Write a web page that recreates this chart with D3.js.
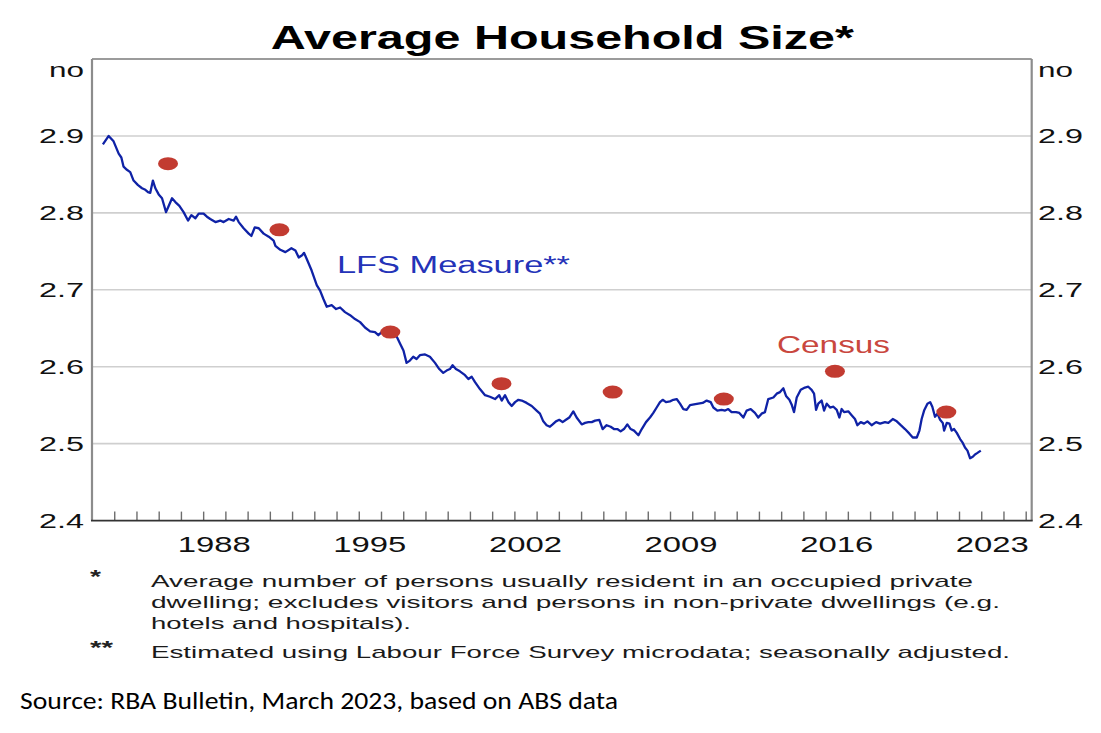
<!DOCTYPE html>
<html>
<head>
<meta charset="utf-8">
<script src="https://cdn.jsdelivr.net/npm/d3@7"></script>
<style>
  html, body { margin: 0; padding: 0; background: #ffffff; }
  svg { display: block; }
</style>
</head>
<body>
<div id="chart"></div>
<script>
// ---------------- DATA ----------------
const chartTitle = "Average Household Size*";
const yUnit = "no";
const yTickValues = [2.4, 2.5, 2.6, 2.7, 2.8, 2.9];
const xTickLabels = [1988, 1995, 2002, 2009, 2016, 2023];
const seriesLabel = "LFS Measure**";
const censusLabel = "Census";

const lfsYears = [
  1983.49, 1983.75, 1983.97, 1984.20, 1984.32, 1984.42, 1984.57, 1984.72, 1984.87, 1985.07,
  1985.25, 1985.40, 1985.52, 1985.62, 1985.74, 1985.85, 1986.00, 1986.15, 1986.33, 1986.45,
  1986.60, 1986.75, 1986.93, 1987.12, 1987.32, 1987.47, 1987.65, 1987.80, 1988.02, 1988.17,
  1988.32, 1988.55, 1988.77, 1988.92, 1989.15, 1989.37, 1989.48, 1989.60, 1989.82, 1990.05,
  1990.17, 1990.32, 1990.50, 1990.72, 1990.95, 1991.17, 1991.25, 1991.47, 1991.70, 1991.97,
  1992.15, 1992.30, 1992.45, 1992.54, 1992.66, 1992.88, 1993.11, 1993.26, 1993.41, 1993.56,
  1993.78, 1993.98, 1994.16, 1994.38, 1994.61, 1994.83, 1995.06, 1995.28, 1995.51, 1995.73,
  1995.88, 1996.03, 1996.26, 1996.48, 1996.71, 1996.86, 1997.01, 1997.15, 1997.30, 1997.45,
  1997.60, 1997.75, 1997.98, 1998.20, 1998.43, 1998.62, 1998.80, 1998.95, 1999.10, 1999.22,
  1999.37, 1999.55, 1999.78, 1999.93, 2000.08, 2000.23, 2000.45, 2000.68, 2000.90, 2001.13,
  2001.32, 2001.43, 2001.58, 2001.73, 2001.88, 2002.03, 2002.18, 2002.33, 2002.55, 2002.78,
  2003.00, 2003.15, 2003.30, 2003.45, 2003.60, 2003.72, 2003.87, 2004.02, 2004.17, 2004.32,
  2004.47, 2004.65, 2004.80, 2005.03, 2005.18, 2005.33, 2005.48, 2005.63, 2005.82, 2005.97,
  2006.15, 2006.33, 2006.48, 2006.63, 2006.78, 2006.93, 2007.08, 2007.23, 2007.38, 2007.58,
  2007.73, 2007.92, 2008.10, 2008.25, 2008.40, 2008.55, 2008.67, 2008.82, 2009.00, 2009.15,
  2009.30, 2009.45, 2009.60, 2009.75, 2009.90, 2010.08, 2010.27, 2010.47, 2010.65, 2010.83,
  2010.95, 2011.13, 2011.32, 2011.48, 2011.62, 2011.77, 2011.97, 2012.12, 2012.30, 2012.45,
  2012.63, 2012.82, 2012.97, 2013.12, 2013.27, 2013.42, 2013.65, 2013.80, 2013.95, 2014.10,
  2014.22, 2014.37, 2014.47, 2014.58, 2014.70, 2014.88, 2015.07, 2015.22, 2015.37, 2015.48,
  2015.57, 2015.67, 2015.82, 2015.93, 2016.05, 2016.20, 2016.35, 2016.50, 2016.62, 2016.72,
  2016.83, 2017.02, 2017.17, 2017.32, 2017.43, 2017.58, 2017.73, 2017.88, 2018.07, 2018.27,
  2018.45, 2018.67, 2018.82, 2019.02, 2019.20, 2019.38, 2019.57, 2019.77, 2019.92, 2020.10,
  2020.22, 2020.32, 2020.43, 2020.58, 2020.70, 2020.80, 2020.92, 2021.03, 2021.15, 2021.27,
  2021.33, 2021.45, 2021.57, 2021.67, 2021.78, 2021.90, 2022.05, 2022.17, 2022.27, 2022.38,
  2022.50, 2022.62, 2022.72, 2022.83, 2022.98
];
const lfsValues = [
  2.889, 2.900, 2.893, 2.877, 2.872, 2.860, 2.856, 2.853, 2.842, 2.836,
  2.832, 2.830, 2.827, 2.826, 2.842, 2.832, 2.824, 2.819, 2.801, 2.809,
  2.819, 2.814, 2.809, 2.801, 2.790, 2.797, 2.793, 2.799, 2.799, 2.795,
  2.792, 2.788, 2.790, 2.788, 2.792, 2.790, 2.795, 2.788, 2.780, 2.773,
  2.770, 2.781, 2.780, 2.773, 2.769, 2.764, 2.757, 2.752, 2.749, 2.754,
  2.751, 2.742, 2.745, 2.748, 2.740, 2.725, 2.706, 2.699, 2.688, 2.678,
  2.680, 2.675, 2.677, 2.671, 2.667, 2.662, 2.658, 2.651, 2.646, 2.645,
  2.641, 2.645, 2.643, 2.641, 2.639, 2.630, 2.621, 2.605, 2.608, 2.613,
  2.610, 2.615, 2.616, 2.613, 2.605, 2.597, 2.592, 2.595, 2.597, 2.602,
  2.597, 2.594, 2.589, 2.584, 2.587, 2.580, 2.571, 2.563, 2.561, 2.558,
  2.563, 2.556, 2.563, 2.554, 2.549, 2.554, 2.557, 2.556, 2.553, 2.549,
  2.543, 2.539, 2.529, 2.524, 2.522, 2.525, 2.529, 2.531, 2.528, 2.531,
  2.534, 2.542, 2.534, 2.525, 2.527, 2.528, 2.528, 2.530, 2.531, 2.519,
  2.524, 2.522, 2.519, 2.519, 2.516, 2.519, 2.525, 2.519, 2.517, 2.511,
  2.519, 2.528, 2.534, 2.540, 2.547, 2.554, 2.557, 2.554, 2.555, 2.557,
  2.558, 2.552, 2.545, 2.544, 2.550, 2.551, 2.552, 2.553, 2.556, 2.554,
  2.547, 2.543, 2.544, 2.543, 2.545, 2.541, 2.541, 2.540, 2.534, 2.543,
  2.545, 2.540, 2.534, 2.539, 2.541, 2.558, 2.560, 2.565, 2.567, 2.572,
  2.562, 2.557, 2.551, 2.541, 2.560, 2.570, 2.573, 2.574, 2.570, 2.565,
  2.544, 2.552, 2.556, 2.543, 2.552, 2.547, 2.548, 2.544, 2.534, 2.545,
  2.541, 2.542, 2.537, 2.532, 2.524, 2.528, 2.526, 2.529, 2.524, 2.528,
  2.526, 2.528, 2.527, 2.532, 2.529, 2.524, 2.519, 2.513, 2.508, 2.508,
  2.517, 2.532, 2.543, 2.552, 2.554, 2.548, 2.535, 2.539, 2.531, 2.527,
  2.517, 2.527, 2.526, 2.517, 2.519, 2.514, 2.506, 2.501, 2.495, 2.491,
  2.481, 2.483, 2.486, 2.488, 2.491
];

const censusYears  = [1986.42, 1991.43, 1996.42, 2001.42, 2006.42, 2011.42, 2016.42, 2021.43];
const censusValues = [2.864, 2.778, 2.645, 2.578, 2.567, 2.558, 2.594, 2.541];

const footnotes = [
  { mark: "*",  lines: [
      "Average number of persons usually resident in an occupied private",
      "dwelling; excludes visitors and persons in non-private dwellings (e.g.",
      "hotels and hospitals)."] },
  { mark: "**", lines: [
      "Estimated using Labour Force Survey microdata; seasonally adjusted."] }
];
const sourceText = "Source: RBA Bulletin, March 2023, based on ABS data";

// ---------------- LAYOUT ----------------
const W = 1101, H = 733;
const plot = { left: 92, right: 1031.7, top: 59, bottom: 520.6 };
const FONT = "'Liberation Sans', Arial, Helvetica, sans-serif";
const lineColor = "#0f22a6";
const labelBlue = "#2433b8";
const dotColor = "#c23b31";
const censusTextColor = "#c9473e";

const svg = d3.select("#chart").append("svg")
  .attr("width", W).attr("height", H)
  .attr("viewBox", `0 0 ${W} ${H}`);

svg.append("rect").attr("width", W).attr("height", H).attr("fill", "#fff");

const x = d3.scaleLinear().domain([1983, 2025.27]).range([plot.left, plot.right]);
const y = d3.scaleLinear().domain([2.4, 3.0]).range([plot.bottom, plot.top]);

// Title
svg.append("text")
  .attr("x", (plot.left + plot.right) / 2 + 0.5)
  .attr("y", 49)
  .attr("text-anchor", "middle")
  .attr("font-family", FONT)
  .attr("font-weight", "bold")
  .attr("font-size", 33)
  .attr("textLength", 583)
  .attr("lengthAdjust", "spacingAndGlyphs")
  .attr("fill", "#000")
  .text(chartTitle);

// Gridlines
svg.append("g")
  .selectAll("line")
  .data(yTickValues.filter(v => v > 2.4))
  .join("line")
  .attr("x1", plot.left).attr("x2", plot.right)
  .attr("y1", d => y(d)).attr("y2", d => y(d))
  .attr("stroke", "#cfcfcf")
  .attr("stroke-width", 1.6);

// Bottom yearly ticks (pointing up into the plot)
const xAxis = d3.axisBottom(x)
  .tickValues(d3.range(1984, 2026))
  .tickSize(-9)
  .tickFormat("");
const gx = svg.append("g")
  .attr("transform", `translate(0,${plot.bottom})`)
  .call(xAxis);
gx.select(".domain").remove();
gx.selectAll(".tick line").attr("stroke", "#6d6d6d").attr("stroke-width", 1.4);

// Frame
svg.append("line").attr("x1", plot.left).attr("x2", plot.right)
  .attr("y1", plot.top).attr("y2", plot.top)
  .attr("stroke", "#7a7a7a").attr("stroke-width", 1.6);
svg.append("line").attr("x1", plot.left).attr("x2", plot.left)
  .attr("y1", plot.top).attr("y2", plot.bottom)
  .attr("stroke", "#8c8c8c").attr("stroke-width", 2.2);
svg.append("line").attr("x1", plot.right).attr("x2", plot.right)
  .attr("y1", plot.top).attr("y2", plot.bottom)
  .attr("stroke", "#8c8c8c").attr("stroke-width", 2.2);
svg.append("line").attr("x1", plot.left - 1).attr("x2", plot.right + 1)
  .attr("y1", plot.bottom).attr("y2", plot.bottom)
  .attr("stroke", "#333").attr("stroke-width", 1.6);

// Y labels (both sides)
const yLabelFont = 20;
function yLabel(xPos, anchor, v) {
  svg.append("text")
    .attr("x", xPos)
    .attr("y", y(v) + 7.5)
    .attr("text-anchor", anchor)
    .attr("font-family", FONT)
    .attr("font-size", yLabelFont)
    .attr("textLength", 45)
    .attr("lengthAdjust", "spacingAndGlyphs")
    .attr("fill", "#111")
    .text(d3.format(".1f")(v));
}
yTickValues.forEach(v => { yLabel(84, "end", v); yLabel(1038, "start", v); });
[[84, "end"], [1038, "start"]].forEach(([xp, an]) => {
  svg.append("text")
    .attr("x", xp).attr("y", 77)
    .attr("text-anchor", an)
    .attr("font-family", FONT)
    .attr("font-size", yLabelFont)
    .attr("textLength", 35)
    .attr("lengthAdjust", "spacingAndGlyphs")
    .attr("fill", "#111")
    .text(yUnit);
});

// X labels (centred in the year)
svg.append("g")
  .selectAll("text")
  .data(xTickLabels)
  .join("text")
  .attr("x", d => x(d + 0.5))
  .attr("y", 552)
  .attr("text-anchor", "middle")
  .attr("font-family", FONT)
  .attr("font-size", 22.5)
  .attr("textLength", 73)
  .attr("lengthAdjust", "spacingAndGlyphs")
  .attr("fill", "#111")
  .text(d => d);

// LFS line
const lfsData = lfsYears.map((t, i) => ({ t, v: lfsValues[i] }));
svg.append("path")
  .datum(lfsData)
  .attr("d", d3.line().x(d => x(d.t)).y(d => y(d.v)))
  .attr("fill", "none")
  .attr("stroke", lineColor)
  .attr("stroke-width", 2.3)
  .attr("stroke-linejoin", "round");

// Census dots
const censusData = censusYears.map((t, i) => ({ t, v: censusValues[i] }));
svg.append("g")
  .selectAll("ellipse")
  .data(censusData)
  .join("ellipse")
  .attr("cx", d => x(d.t))
  .attr("cy", d => y(d.v))
  .attr("rx", 10)
  .attr("ry", 6.5)
  .attr("fill", dotColor);

// Series labels
svg.append("text")
  .attr("x", 337).attr("y", 273)
  .attr("font-family", FONT)
  .attr("font-size", 23)
  .attr("textLength", 233)
  .attr("lengthAdjust", "spacingAndGlyphs")
  .attr("fill", labelBlue)
  .text(seriesLabel);
svg.append("text")
  .attr("x", 777).attr("y", 353)
  .attr("font-family", FONT)
  .attr("font-size", 23)
  .attr("textLength", 113)
  .attr("lengthAdjust", "spacingAndGlyphs")
  .attr("fill", censusTextColor)
  .text(censusLabel);

// Footnotes
const fnBaselines = [[587, 608, 629], [658]];
const fnWidths = [[822, 849, 260], [859]];
const fnMarkWidths = [11, 23];
footnotes.forEach((fn, i) => {
  svg.append("text")
    .attr("x", 90).attr("y", fnBaselines[i][0] - 4)
    .attr("font-family", FONT)
    .attr("font-size", 19)
    .attr("font-weight", "bold")
    .attr("textLength", fnMarkWidths[i])
    .attr("lengthAdjust", "spacingAndGlyphs")
    .attr("fill", "#222")
    .text(fn.mark);
  fn.lines.forEach((ln, j) => {
    svg.append("text")
      .attr("x", 151).attr("y", fnBaselines[i][j])
      .attr("font-family", FONT)
      .attr("font-size", 17)
      .attr("textLength", fnWidths[i][j])
      .attr("lengthAdjust", "spacingAndGlyphs")
      .attr("fill", "#1a1a1a")
      .text(ln);
  });
});

// Source
svg.append("text")
  .attr("x", 20).attr("y", 709)
  .attr("font-family", "Carlito, Calibri, Lato, 'Open Sans', sans-serif")
  .attr("font-size", 25)
  .attr("textLength", 598)
  .attr("lengthAdjust", "spacingAndGlyphs")
  .attr("fill", "#000")
  .text(sourceText);
</script>
</body>
</html>
